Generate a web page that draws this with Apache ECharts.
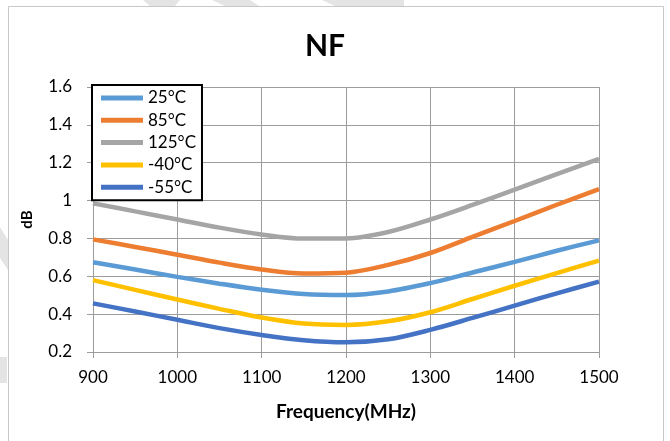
<!DOCTYPE html>
<html>
<head>
<meta charset="utf-8">
<script src="https://cdn.jsdelivr.net/npm/echarts@6/dist/echarts.min.js"></script>
<style>
  html, body { margin: 0; padding: 0; background: #fff; }
  #chart { width: 670px; height: 441px; }
</style>
</head>
<body>
<div id="chart"></div>
<script>
// Frequency points (MHz)
const freq = [900, 950, 1000, 1050, 1100, 1150, 1200, 1250, 1300, 1350, 1400, 1450, 1500];

// Noise figure (dB) per temperature
const nf25 = [0.674, 0.636, 0.597, 0.561, 0.529, 0.506, 0.501, 0.520, 0.564, 0.620, 0.676, 0.735, 0.790];
const nf85 = [0.795, 0.755, 0.714, 0.672, 0.636, 0.615, 0.619, 0.660, 0.723, 0.808, 0.892, 0.978, 1.060];
const nf125 = [0.985, 0.943, 0.900, 0.857, 0.821, 0.799, 0.800, 0.834, 0.900, 0.977, 1.058, 1.140, 1.220];
const nfM40 = [0.580, 0.528, 0.477, 0.428, 0.382, 0.350, 0.343, 0.362, 0.410, 0.480, 0.550, 0.617, 0.683];
const nfM55 = [0.457, 0.414, 0.370, 0.326, 0.290, 0.262, 0.251, 0.267, 0.317, 0.380, 0.445, 0.510, 0.572];

const seriesNames = ['25°C', '85°C', '125°C', '-40°C', '-55°C'];
const seriesData = [nf25, nf85, nf125, nfM40, nfM55];
const seriesColors = ['#5B9BD5', '#ED7D31', '#A5A5A5', '#FFC000', '#4472C4'];

const FONT = 'Lato';
const gridColor = '#9c9c9c';

const chart = echarts.init(document.getElementById('chart'), null, { renderer: 'canvas' });

const series = seriesNames.map((name, i) => ({
  name: name,
  type: 'line',
  smooth: 0.33,
  showSymbol: false,
  symbol: 'none',
  z: 3,
  lineStyle: { width: 4.5, color: seriesColors[i] },
  itemStyle: { color: seriesColors[i] },
  data: freq.map((f, k) => [f, seriesData[i][k]])
}));

// faint background marks outside the chart frame
const marks = [
  [[143, 0], [180, 0], [175, 6], [150, 6]],
  [[212, 0], [250, 0], [259, 6], [225, 6]],
  [[322, 0], [404, 0], [404, 6], [335, 6]],
  [[0, 227], [8, 240], [8, 270], [0, 258]],
  [[0, 357], [7, 357], [7, 383], [0, 383]]
];

chart.setOption({
  animation: false,
  backgroundColor: '#fff',
  textStyle: { fontFamily: FONT },
  graphic: [
    ...marks.map(p => ({
      type: 'polygon', shape: { points: p }, silent: true,
      style: { fill: '#e4e4e4' }, z: 0
    })),
    {
      type: 'rect', shape: { x: 8.5, y: 6.5, width: 655, height: 450 },
      style: { fill: '#fff', stroke: '#c8c8c8', lineWidth: 1 }, z: -1, silent: true
    },
    {
      type: 'text', z: 5, silent: true,
      style: { text: 'NF', x: 325, y: 46, fontSize: 30, fontWeight: 'bold', fontFamily: FONT, fill: '#000', align: 'center', verticalAlign: 'middle' }
    }
  ],
  grid: { left: 93, right: 71, top: 87, bottom: 89 },
  legend: {
    orient: 'vertical',
    left: 92,
    top: 85,
    icon: 'rect',
    itemWidth: 42,
    itemHeight: 5,
    itemGap: 2.3,
    padding: [3, 6, 3, 9],
    backgroundColor: '#fff',
    borderColor: '#000',
    borderWidth: 2,
    z: 10,
    textStyle: { fontFamily: FONT, fontSize: 17, color: '#000', lineHeight: 20 },
    data: seriesNames
  },
  xAxis: {
    type: 'value',
    min: 900,
    max: 1500,
    interval: 100,
    name: 'Frequency(MHz)',
    nameLocation: 'middle',
    nameGap: 50,
    nameTextStyle: { fontFamily: FONT, fontSize: 19, fontWeight: 'bold', color: '#000' },
    axisLine: { show: true, lineStyle: { color: gridColor, width: 1 } },
    axisTick: { show: true, length: 6, lineStyle: { color: gridColor } },
    axisLabel: { fontFamily: FONT, fontSize: 17, color: '#000', margin: 17, formatter: v => String(v) },
    splitLine: { show: true, lineStyle: { color: gridColor, width: 1 } }
  },
  yAxis: {
    type: 'value',
    min: 0.2,
    max: 1.6,
    interval: 0.2,
    name: 'dB',
    nameLocation: 'middle',
    nameGap: 58,
    nameTextStyle: { fontFamily: FONT, fontSize: 15, fontWeight: 'bold', color: '#000' },
    axisLine: { show: true, lineStyle: { color: gridColor, width: 1 } },
    axisTick: { show: true, length: 6, lineStyle: { color: gridColor } },
    axisLabel: { fontFamily: FONT, fontSize: 17, color: '#000', margin: 21 },
    splitLine: { show: true, lineStyle: { color: gridColor, width: 1 } }
  },
  series: series
});
</script>
</body>
</html>
